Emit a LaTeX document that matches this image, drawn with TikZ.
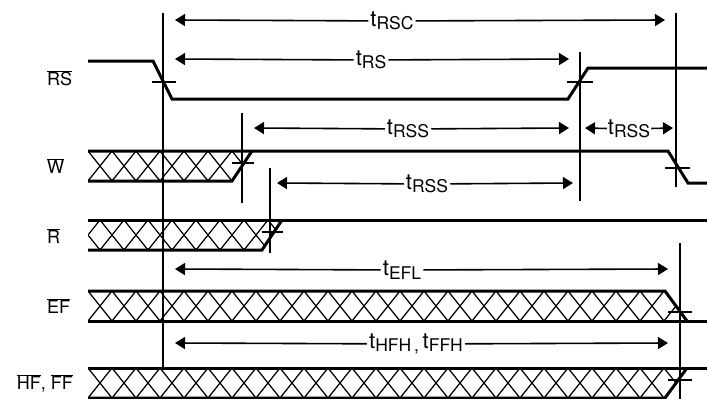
\documentclass[tikz,border=0pt]{standalone}
\usepackage{fontspec}
\setmainfont{TeX Gyre Heros}
\usetikzlibrary{arrows.meta}
\tikzset{
x=1pt, y=-1pt, % one unit per pixel, y runs downwards
sig/.style={line width=3pt, line join=miter}, % signal levels
guide/.style={line width=1.6pt}, % vertical reference lines
tick/.style={line width=1.4pt}, % crossing marks on the edges
hatch/.style={line width=1.2pt}, % don't care fill
span/.style={line width=1.6pt, -{Triangle[length=10pt,width=12pt]}}, % timing arrows
tlabel/.style={font=\fontsize{22}{22}\selectfont, inner sep=2pt},
signame/.style={font=\fontsize{18}{18}\selectfont, anchor=west, inner sep=0pt},
}
\newcommand{\subsz}{\fontsize{17.5}{17.5}\selectfont}
\newcommand{\tval}[1]{t\raisebox{-3.5pt}{\subsz #1}}
\newcommand{\ovl}[1]{$\overline{\mbox{#1}}$}

\begin{document}
\begin{tikzpicture}
\useasboundingbox (0,0) rectangle (707,399);

% signal names
\node[signame] (nRS) at (47,78) {\ovl{RS}};
\node[signame] (nW) at (47,166) {\ovl{W}};
\node[signame] (nR) at (47,236) {\ovl{R}};
\node[signame] (nEF) at (47,306) {\ovl{EF}};
\node[signame, anchor=east] (nHF) at (73,383) {\ovl{HF}, \ovl{FF}};

% don't care bands
\begin{scope}
\clip (88,151) -- (252,151) -- (232,181) -- (88,181) -- cycle;
\foreach \x in {88,112,...,256} \draw[hatch] (\x,151) -- ++(24,30) (\x,181) -- ++(24,-30);
\end{scope}
\begin{scope}
\clip (88,220) -- (282,220) -- (262,250) -- (88,250) -- cycle;
\foreach \x in {76,100,...,284} \draw[hatch] (\x,220) -- ++(24,30) (\x,250) -- ++(24,-30);
\end{scope}
\begin{scope}
\clip (88,291) -- (665,291) -- (687,321) -- (88,321) -- cycle;
\foreach \x in {88,112,...,688} \draw[hatch] (\x,291) -- ++(24,30) (\x,321) -- ++(24,-30);
\end{scope}
\begin{scope}
\clip (88,368) -- (687,368) -- (665,398) -- (88,398) -- cycle;
\foreach \x in {88,112,...,688} \draw[hatch] (\x,368) -- ++(24,30) (\x,398) -- ++(24,-30);
\end{scope}

% signal levels
\draw[sig] (88,61) -- (153,61) -- (172,99) -- (568,99) -- (588,68) -- (707,68);
\draw[sig] (88,151) -- (668,151) -- (688,183) -- (707,183);
\draw[sig] (88,181) -- (232,181) -- (252,151);
\draw[sig] (88,220) -- (707,220);
\draw[sig] (88,250) -- (262,250) -- (282,220);
\draw[sig] (88,291) -- (665,291) -- (687,321);
\draw[sig] (88,321) -- (707,321);
\draw[sig] (88,368) -- (707,368);
\draw[sig] (88,398) -- (665,398) -- (687,368);

% reference lines
\draw[guide] (163,13) -- (163,367);
\draw[guide] (676,13) -- (676,187);
\draw[guide] (580,52) -- (580,201);
\draw[guide] (242,113) -- (242,203);
\draw[guide] (270,168) -- (270,253);
\draw[guide] (680,243) -- (680,399);

% crossing marks
\draw[tick] (152,82) -- (176,82);
\draw[tick] (567,82) -- (593,82);
\draw[tick] (232,163) -- (254,163);
\draw[tick] (665,168) -- (690,168);
\draw[tick] (262,232) -- (283,232);
\draw[tick] (668,312) -- (692,312);
\draw[tick] (668,380) -- (692,380);

% timing arrows
\coordinate (rscL) at (175,20); \coordinate (rscR) at (665,20);
\coordinate (rsL) at (175,59); \coordinate (rsR) at (569,59);
\coordinate (rssaL) at (254,128); \coordinate (rssaR) at (569,128);
\coordinate (rssbL) at (585,128); \coordinate (rssbR) at (673,128);
\coordinate (rsscL) at (277,183); \coordinate (rsscR) at (573,183);
\coordinate (eflL) at (175,269); \coordinate (eflR) at (668,269);
\coordinate (hfhL) at (175,343); \coordinate (hfhR) at (668,343);

\node[tlabel] (tRSC) at (392,21) {\tval{RSC}};
\node[tlabel] (tRS) at (371,60) {\tval{RS}};
\node[tlabel] (tRSSa) at (408,129) {\tval{RSS}};
\node[tlabel, inner sep=1pt] (tRSSb) at (629,129) {\tval{RSS}};
\node[tlabel] (tRSSc) at (427,184) {\tval{RSS}};
\node[tlabel] (tEFL) at (402,270) {\tval{EFL}};
\node[tlabel] (tHFH) at (416,344) {\tval{HFH\,,}\,\tval{FFH}};

\draw[span] (tRSC) -- (rscL); \draw[span] (tRSC) -- (rscR);
\draw[span] (tRS) -- (rsL); \draw[span] (tRS) -- (rsR);
\draw[span] (tRSSa) -- (rssaL); \draw[span] (tRSSa) -- (rssaR);
\draw[span] (tRSSb) -- (rssbL); \draw[span] (tRSSb) -- (rssbR);
\draw[span] (tRSSc) -- (rsscL); \draw[span] (tRSSc) -- (rsscR);
\draw[span] (tEFL) -- (eflL); \draw[span] (tEFL) -- (eflR);
\draw[span] (tHFH) -- (hfhL); \draw[span] (tHFH) -- (hfhR);
\end{tikzpicture}
\end{document}
